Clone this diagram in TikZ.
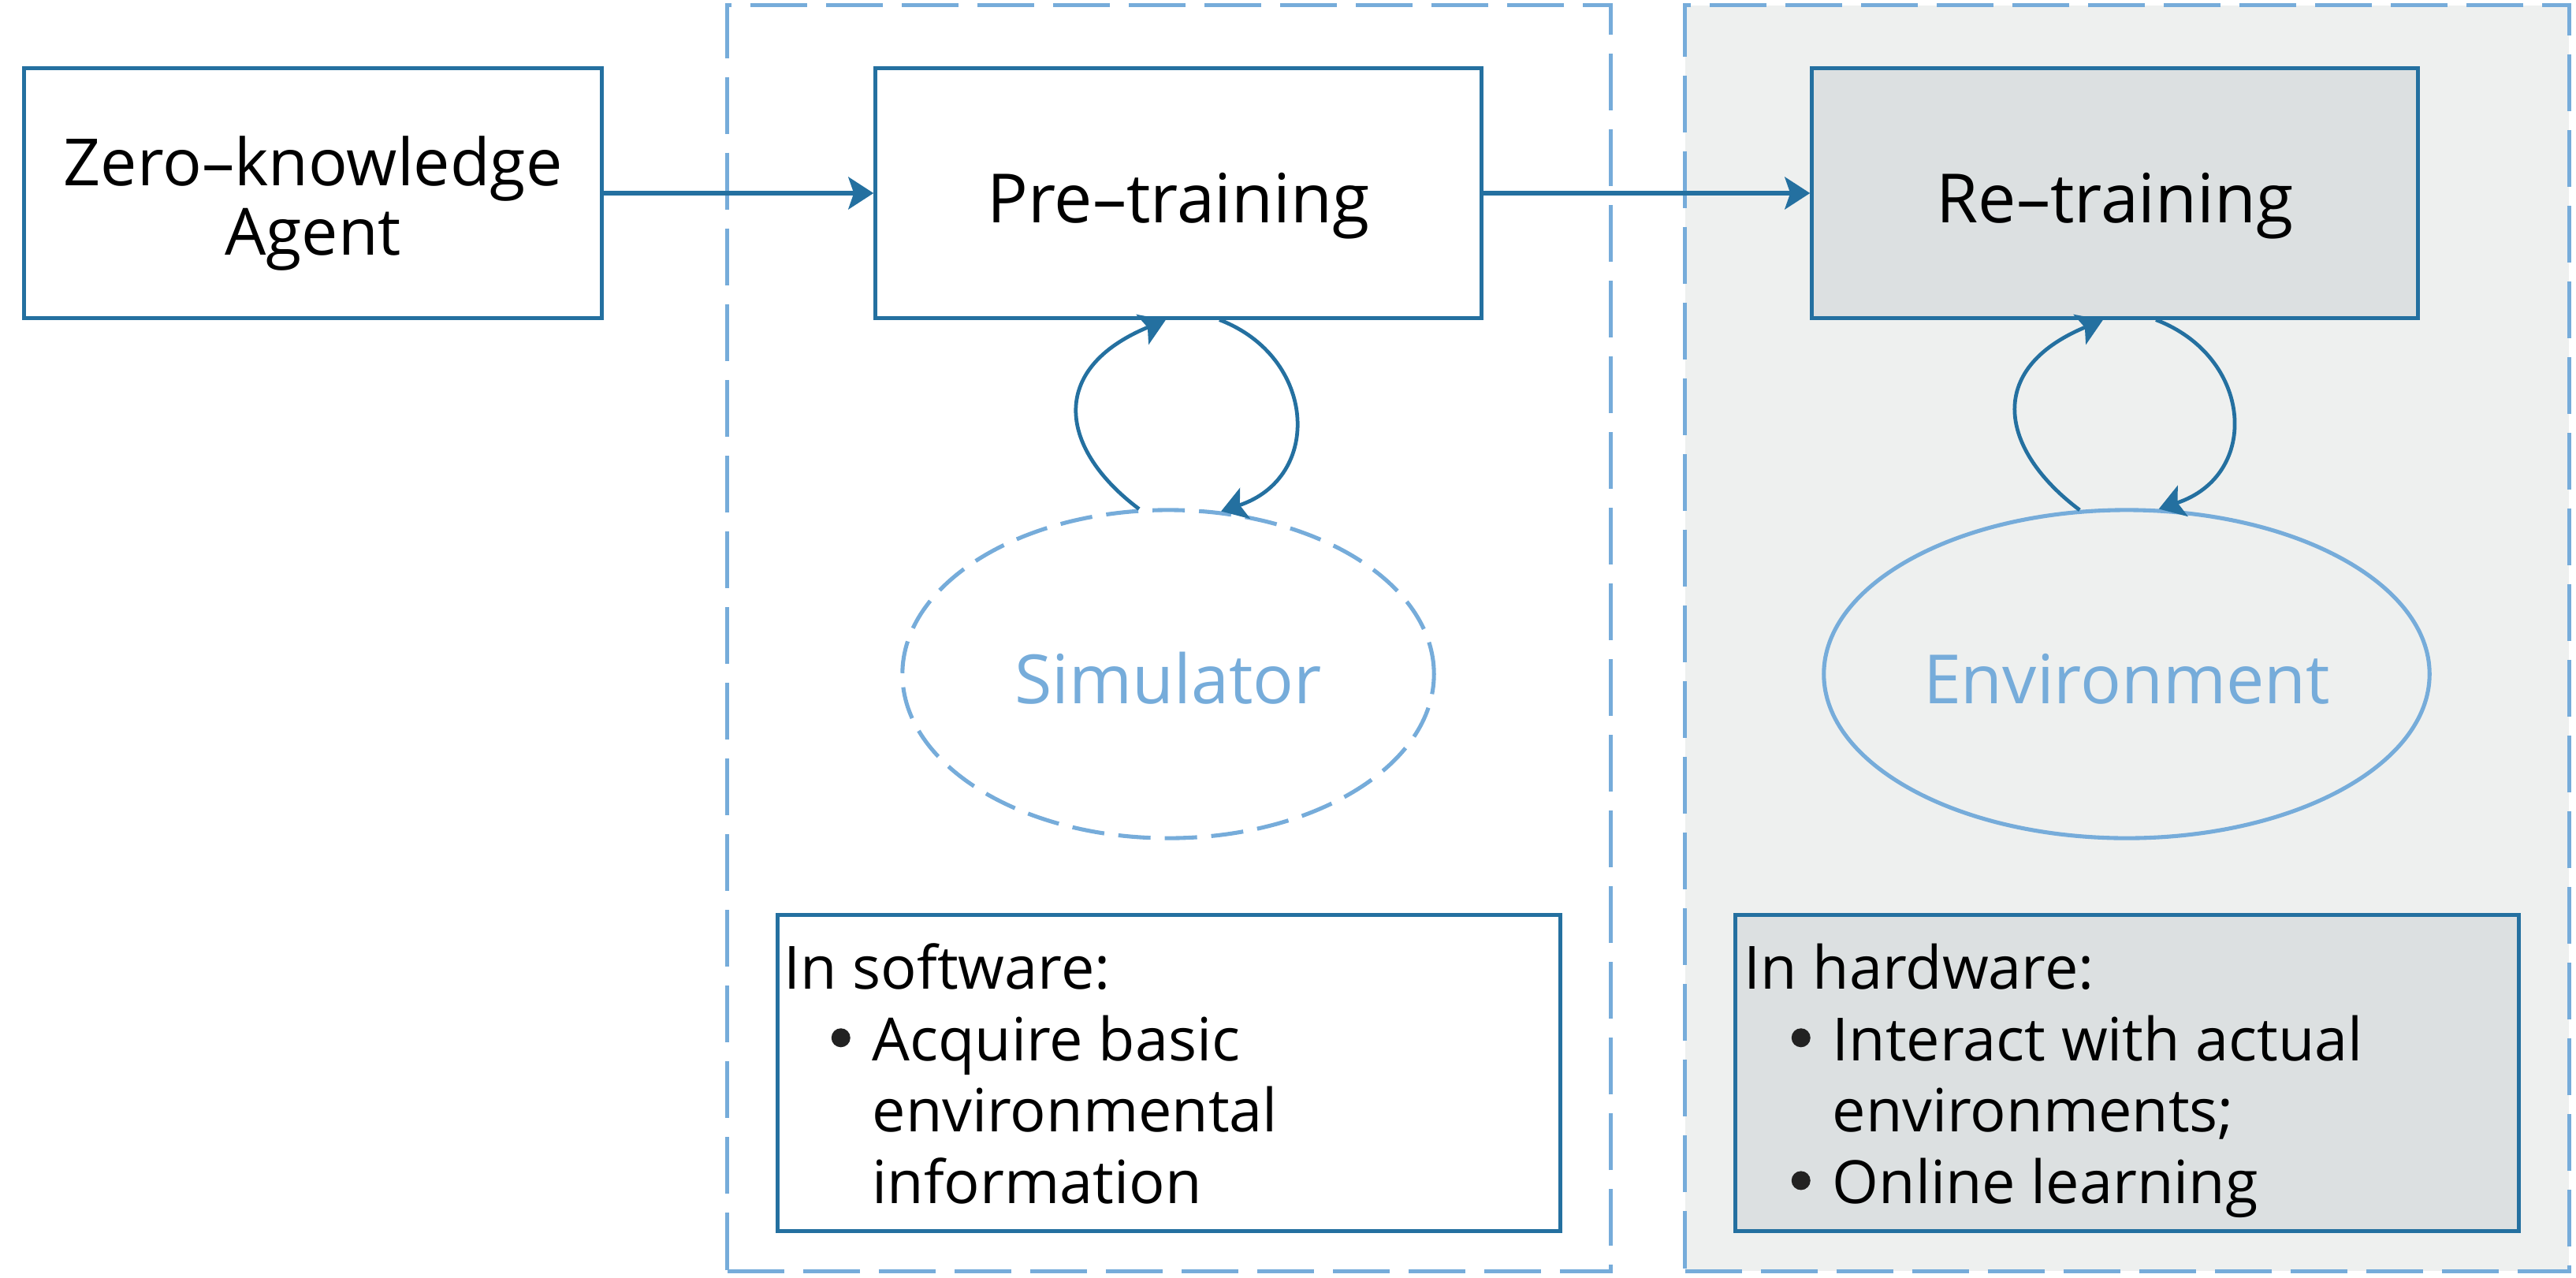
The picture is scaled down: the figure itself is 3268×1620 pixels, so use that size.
\documentclass[tikz,border=0pt]{standalone}
\usepackage{fontspec}
\setmainfont{Open Sans}
\usetikzlibrary{arrows.meta,shapes.geometric}
\definecolor{dblue}{HTML}{2470A0}
\definecolor{lblue}{HTML}{76ACDA}
\definecolor{panelgray}{HTML}{EEF0EF}
\definecolor{boxgray}{HTML}{DCE0E1}
\definecolor{bulletgray}{HTML}{222222}
\newcommand{\bul}{\hspace*{0.60cm}\makebox[0.52cm][l]{\raisebox{0.29cm}{\tikz[baseline=0pt]\fill[bulletgray] (0.12cm,0) circle[radius=0.12cm];}}}
\newcommand{\cont}{\hspace*{1.12cm}}
\begin{document}
\begin{tikzpicture}[x=0.01cm,y=-0.01cm,
  container/.style={rectangle, draw=lblue, line width=1.5pt,
    dash pattern=on 0.72cm off 0.24cm, minimum width=11.2cm,
    minimum height=16.05cm, inner sep=0pt},
  stagebox/.style={rectangle, draw=dblue, line width=1.45pt,
    minimum height=3.16cm, inner sep=0pt},
  oneline/.style={font=\fontsize{24.5}{29}\selectfont,
    text height=0.74cm, text depth=0pt},
  world/.style={ellipse, draw=lblue, line width=1.45pt,
    minimum height=4.16cm, inner sep=0pt, text=lblue},
  infobox/.style={rectangle, draw=dblue, line width=1.45pt,
    minimum width=9.93cm, minimum height=4.0cm, inner sep=0pt},
  infotext/.style={anchor=north west, inner sep=0pt, align=left,
    font=\fontsize{21.5}{25.75}\selectfont},
  tip/.style={-{Stealth[length=0.32cm,width=0.41cm,inset=0.07cm]}},
  flow/.style={draw=dblue, line width=1.45pt, tip},
  loopline/.style={draw=dblue, line width=1.35pt, tip}
]
\useasboundingbox (0,0) rectangle (3268,1620);

% panels
\node[container] (softpanel) at (1483,809.5) {};
\node[container, fill=panelgray, minimum width=11.21cm] (hardpanel) at (2698.5,809.5) {};

% stage boxes
\node[stagebox, minimum width=7.32cm, align=center,
  font=\fontsize{23.5}{25.04}\selectfont] (agent) at (397,245)
  {\rule{0pt}{0.88cm}Zero–knowledge\\Agent};
\node[stagebox, oneline, minimum width=7.68cm] (pre) at (1495,245) {Pre–training};
\node[stagebox, oneline, minimum width=7.68cm, fill=boxgray] (re) at (2683,245) {Re–training};

% worlds
\node[world, oneline, minimum width=6.74cm,
  dash pattern=on 0.41cm off 0.18cm] (sim) at (1482,855) {Simulator};
\node[world, oneline, minimum width=7.68cm] (env) at (2698,855) {Environment};

% info boxes
\node[infobox] (softbox) at (1483,1361) {};
\node[infobox, fill=boxgray] (hardbox) at (2698.5,1361) {};
\node[infotext] (softtext) at (994,1194)
  {\rule{0pt}{0.6cm}In software:\\
   \bul Acquire basic\\
   \cont environmental\\
   \cont information};
\node[infotext] (hardtext) at (2212,1194)
  {\rule{0pt}{0.6cm}In hardware:\\
   \bul Interact with actual\\
   \cont environments;\\
   \bul Online learning};

% connectors
\draw[flow] (agent.east) -- (pre.west);
\draw[flow] (pre.east) -- (re.west);

\draw[loopline] (sim.100.6) .. controls +(-100,-75) and +(-152,63) .. ([xshift=-0.16cm]pre.south);
\draw[loopline] ([xshift=0.52cm]pre.south) .. controls +(123,47) and +(130,-43) .. (sim.72.7);

\draw[loopline] (env.106.5) .. controls +(-100,-75) and +(-152,63) .. ([xshift=-0.15cm]re.south);
\draw[loopline] ([xshift=0.52cm]re.south) .. controls +(123,47) and +(130,-43) .. (env.79.9);
\end{tikzpicture}
\end{document}
